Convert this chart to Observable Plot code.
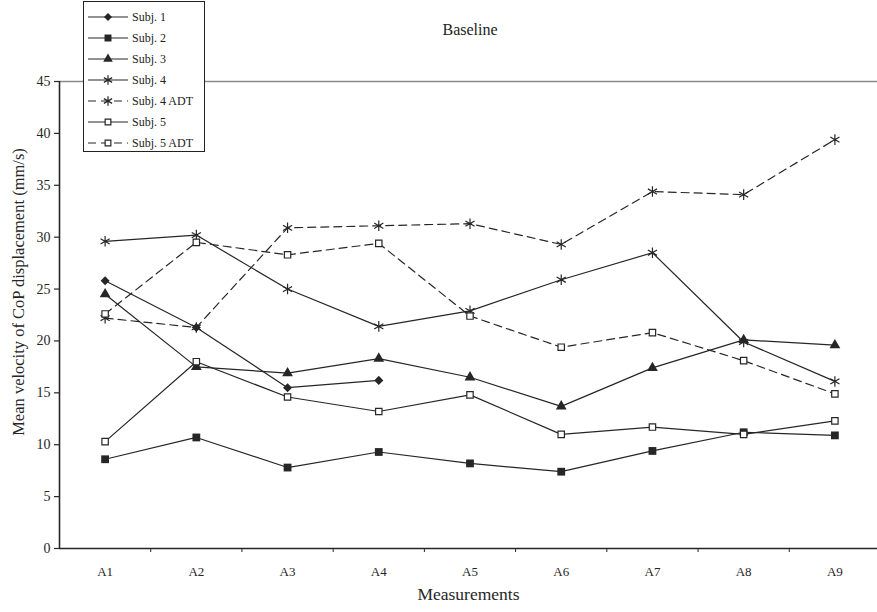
<!DOCTYPE html>
<html><head><meta charset="utf-8">
<script src="https://cdn.jsdelivr.net/npm/d3@7"></script>
<script src="https://cdn.jsdelivr.net/npm/@observablehq/plot@0.6"></script>
<style>
body{margin:0;background:#fff;}
#wrap{position:relative;width:877px;height:612px;font-family:"Liberation Serif","DejaVu Serif",serif;color:#222;}
#title{position:absolute;left:370px;width:200px;top:21px;text-align:center;font-size:16px;}
#legend{position:absolute;left:83px;top:1px;width:120px;height:149px;border:1.5px solid #222;background:#fff;padding:0;box-sizing:content-box;}
.item{position:absolute;left:3px;height:16px;display:flex;align-items:center;font-size:12px;white-space:nowrap;}
.item svg{margin-right:3px;}
</style></head><body>
<div id="wrap"><div id="title">Baseline</div><div id="legend"></div></div>
<script>
const measurements = ["A1","A2","A3","A4","A5","A6","A7","A8","A9"];
const series = ["Subj. 1","Subj. 2","Subj. 3","Subj. 4","Subj. 4 ADT","Subj. 5","Subj. 5 ADT"];
const subj1    = [25.8, 21.3, 15.5, 16.2];
const subj2    = [8.6, 10.7, 7.8, 9.3, 8.2, 7.4, 9.4, 11.2, 10.9];
const subj3    = [24.5, 17.5, 16.9, 18.3, 16.5, 13.7, 17.4, 20.1, 19.6];
const subj4    = [29.6, 30.2, 25.0, 21.4, 22.9, 25.9, 28.5, 19.9, 16.1];
const subj4ADT = [22.2, 21.3, 30.9, 31.1, 31.3, 29.3, 34.4, 34.1, 39.4];
const subj5    = [10.3, 18.0, 14.6, 13.2, 14.8, 11.0, 11.7, 11.0, 12.3];
const subj5ADT = [22.6, 29.5, 28.3, 29.4, 22.4, 19.4, 20.8, 18.1, 14.9];
const yTicks = [0,5,10,15,20,25,30,35,40,45];
const title = "Baseline";
const xLabel = "Measurements";
const yLabel = "Mean velocity of CoP displacement (mm/s)";

const seriesValues = [subj1, subj2, subj3, subj4, subj4ADT, subj5, subj5ADT];
const symbolOf = {"Subj. 1":"diamond","Subj. 2":"square","Subj. 3":"triangle","Subj. 4":"asterisk","Subj. 4 ADT":"asterisk","Subj. 5":"square2","Subj. 5 ADT":"square2"};
const dashed = new Set(["Subj. 4 ADT","Subj. 5 ADT"]);
const ink = "#262626";

const rows = [];
series.forEach((s, k) => seriesValues[k].forEach((v, i) => rows.push({series: s, m: measurements[i], v})));
const xPos = d => measurements.indexOf(d.m) + 0.5;

// square diamond (rotated square, equal width and height)
const squareDiamond = {
  draw(context, size) {
    const h = Math.sqrt(size / 2);
    context.moveTo(0, -h); context.lineTo(h, 0); context.lineTo(0, h); context.lineTo(-h, 0); context.closePath();
  }
};
const symObj = {diamond: squareDiamond, square: d3.symbolSquare, triangle: d3.symbolTriangle, asterisk: d3.symbolAsterisk, square2: d3.symbolSquare};
const symFill = {diamond: ink, square: ink, triangle: ink, asterisk: "none", square2: "white"};
const symStroke = {diamond: "none", square: "none", triangle: "none", asterisk: ink, square2: ink};
const symR = {diamond: 3.6, square: 4.4, triangle: 4.0, asterisk: 5.0, square2: 3.6};
const symSize = sym => Math.PI * symR[sym] * symR[sym];

const dotMarks = ["diamond","square","triangle","asterisk","square2"].map(sym =>
  Plot.dot(rows.filter(d => symbolOf[d.series] === sym), {
    x: xPos, y: "v", symbol: symObj[sym], r: symR[sym],
    fill: symFill[sym], stroke: symStroke[sym], strokeWidth: 1.2
  })
);

const chart = Plot.plot({
  width: 877, height: 612,
  marginLeft: 59, marginRight: 0, marginTop: 81, marginBottom: 64,
  x: {domain: [0, 9], range: [59, 880], axis: null},
  y: {domain: [0, 45], axis: null},
  style: {fontFamily: '"Liberation Serif","DejaVu Serif",serif', background: "white", color: ink, overflow: "visible"},
  marks: [
    Plot.ruleY([45], {stroke: "#8a8a8a", strokeWidth: 1.5}),
    Plot.axisY({ticks: yTicks, tickSize: 5, tickPadding: 4, fontSize: 14, label: null, stroke: ink, strokeWidth: 1.2}),
    Plot.axisX({ticks: d3.range(1, 9), tickFormat: () => "", tickSize: 4, label: null, stroke: ink}),
    Plot.axisX({ticks: measurements.map((m, i) => i + 0.5), tickFormat: d => measurements[Math.floor(d)], tickSize: 0, tickPadding: 18, fontSize: 13, label: null}),
    Plot.ruleX([0], {stroke: ink, strokeWidth: 1.6}),
    Plot.ruleY([0], {stroke: ink, strokeWidth: 1.6}),
    Plot.line(rows.filter(d => !dashed.has(d.series)), {x: xPos, y: "v", z: "series", stroke: ink, strokeWidth: 1.2}),
    Plot.line(rows.filter(d => dashed.has(d.series)), {x: xPos, y: "v", z: "series", stroke: ink, strokeWidth: 1.2, strokeDasharray: "8,5"}),
    ...dotMarks,
    Plot.text([yLabel], {frameAnchor: "left", textAnchor: "middle", rotate: -90, dx: -41, dy: -23, fontSize: 16.5, fill: ink}),
    Plot.text([xLabel], {frameAnchor: "bottom", textAnchor: "middle", dy: 51, fontSize: 17.5, fill: ink})
  ]
});
chart.style.position = "absolute";
chart.style.left = "0px";
chart.style.top = "0px";
const wrap = document.getElementById("wrap");
wrap.insertBefore(chart, wrap.firstChild);
document.getElementById("title").textContent = title;

// legend
const legend = d3.select("#legend");
series.forEach((s, k) => {
  const sym = symbolOf[s];
  const item = legend.append("div").attr("class", "item").style("top", (7 + k * 21) + "px");
  const svg = item.append("svg").attr("width", 42).attr("height", 14);
  svg.append("line").attr("x1", 1).attr("x2", 41).attr("y1", 7).attr("y2", 7)
    .attr("stroke", ink).attr("stroke-width", 1.2)
    .attr("stroke-dasharray", dashed.has(s) ? "8,5" : null);
  svg.append("path").attr("transform", "translate(21,7)")
    .attr("d", d3.symbol(symObj[sym], symSize(sym) * 0.8)())
    .attr("fill", symFill[sym]).attr("stroke", symStroke[sym]).attr("stroke-width", 1.2);
  item.append("span").text(s);
});
</script>
</body></html>
